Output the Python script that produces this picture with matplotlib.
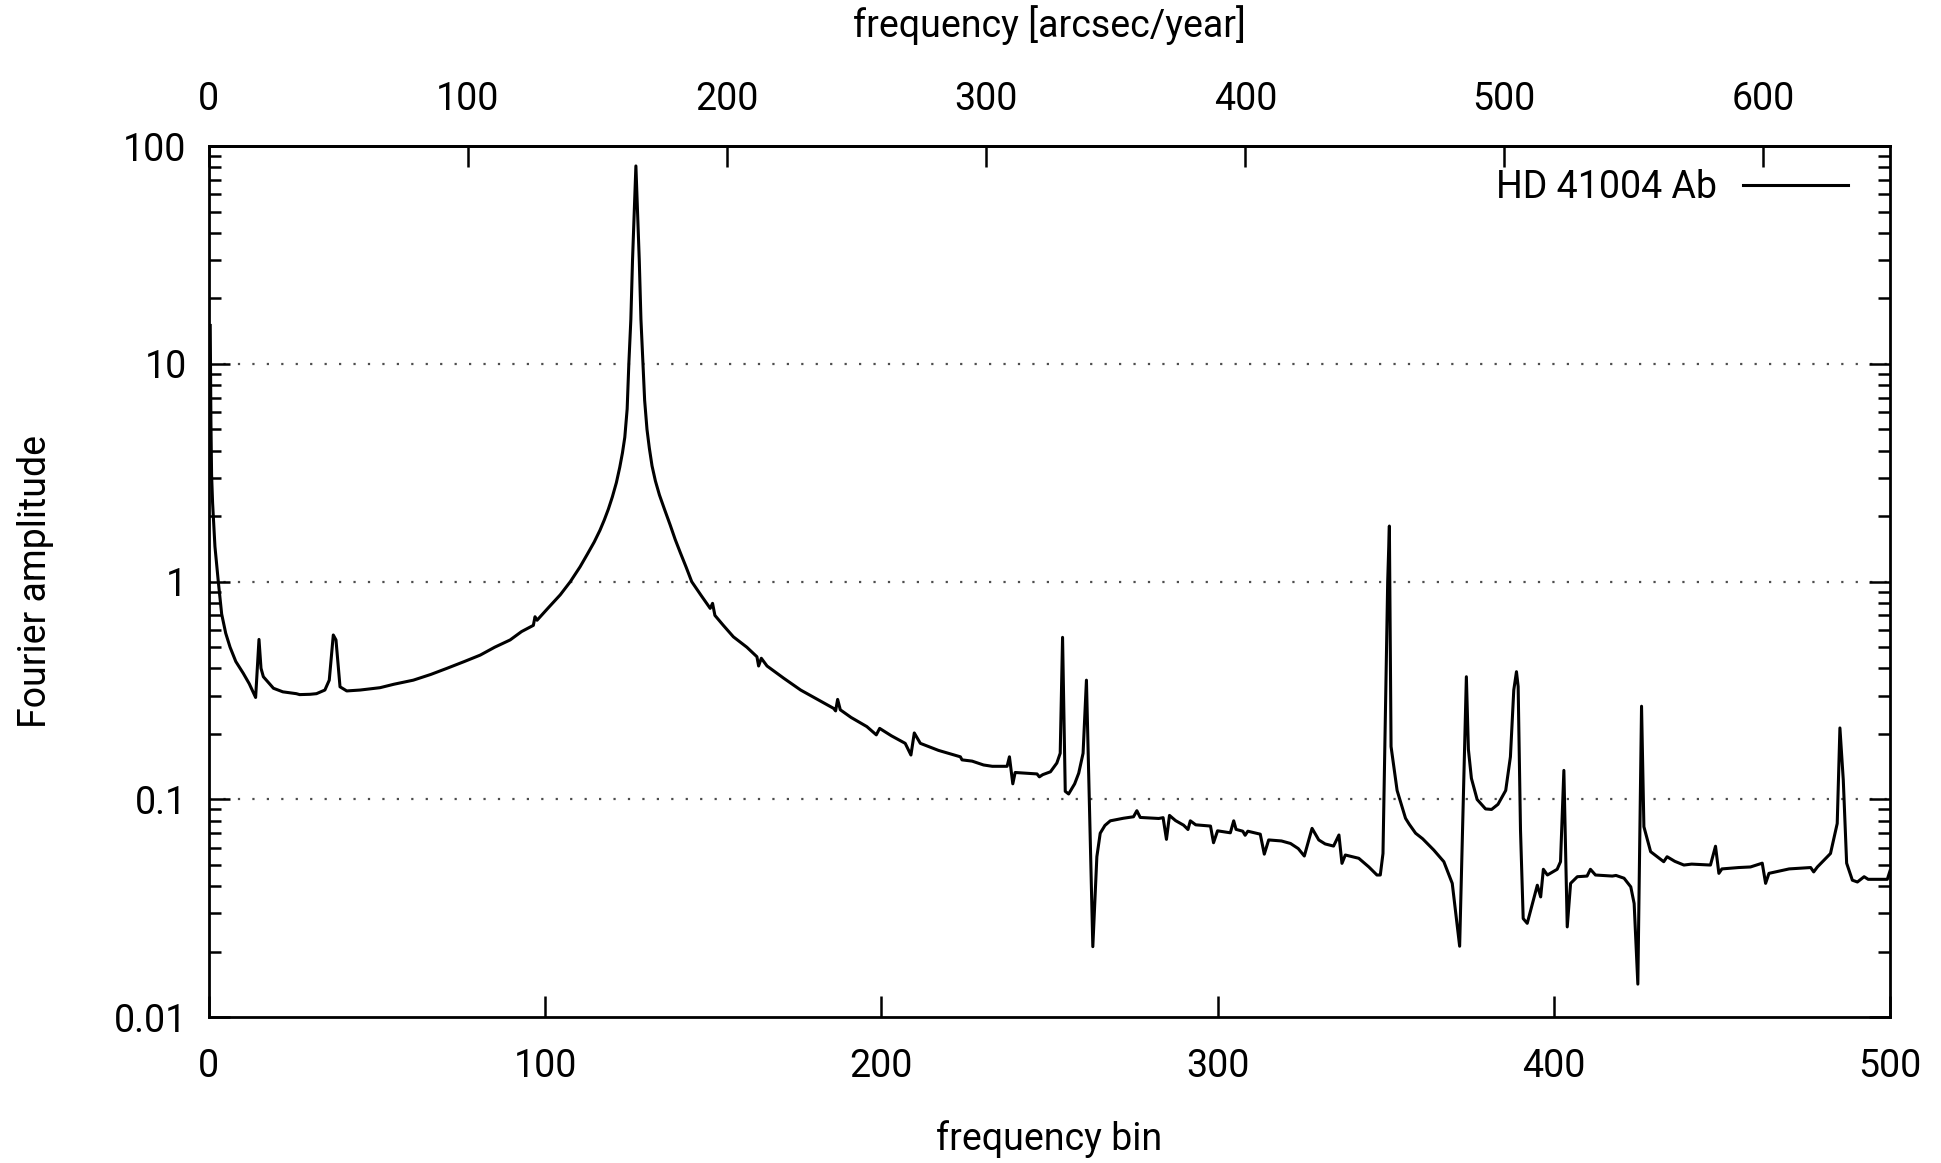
import numpy as np
import matplotlib.pyplot as plt
from matplotlib.ticker import NullFormatter, NullLocator

# spectrum (frequency bin, Fourier amplitude)
bins = [0.4, 0.6, 0.8, 1.1, 1.8, 2.8, 3.8, 5.0, 6.3, 8.0, 10.2, 12.0, 13.9, 14.9, 15.5, 16.2,
        19.2, 22.0, 24.1, 26.0, 27.0, 30.1, 32.0, 34.5, 35.8, 37.0, 37.8, 39.0, 41.0,
        45.0, 50.9, 55.0, 60.8, 66.0, 70.8, 76.0, 80.7, 85.0, 89.6, 93.0, 96.5, 97.0,
        97.6, 101.0, 104.5, 107.5, 110.4, 112.6, 114.6, 116.3, 117.6, 118.8, 120.0,
        121.2, 122.2, 123.0, 123.7,
        124.4, 124.9, 125.5, 126.0, 126.5, 127.0, 127.5, 128.0, 128.5, 129.1, 129.6,
        130.3, 131.0, 131.8, 132.8, 134.0, 135.5, 137.2, 138.7, 140.2, 141.9, 143.6,
        146.5, 149.1, 149.8, 150.5, 153.0, 156.0, 160.0,
        163.0, 163.5, 164.3, 166.0, 171.0, 176.0, 181.0, 185.8, 186.4, 187.0, 187.8,
        191.0, 195.7, 198.5, 199.5, 203.0, 207.1, 208.8, 209.8, 211.6, 217.0, 223.5,
        224.0, 227.0, 230.4, 233.0, 237.4, 238.1, 239.1, 239.8, 246.3, 247.0, 248.0,
        250.3, 252.2, 253.2, 253.9, 254.7, 255.7, 257.5, 258.7, 260.0, 261.0, 262.9,
        264.1, 265.1, 266.5, 268.1, 272.0, 275.0, 276.0, 277.0, 282.5, 283.8, 284.8,
        285.7, 287.5, 289.9, 291.2, 291.9, 293.5, 297.9, 298.8, 300.0, 303.8, 304.8,
        305.5, 307.5, 308.2, 309.0, 312.7, 313.9, 315.2, 319.0, 321.7, 324.0, 325.8,
        328.1, 330.1, 332.0, 334.5, 336.1, 337.0, 338.0, 342.0, 345.0, 347.4, 348.4,
        349.2, 350.6, 351.1, 351.6, 353.4, 355.9, 357.0, 358.9, 361.0, 364.3, 367.3,
        369.8, 372.0, 374.0, 374.6, 375.5, 377.2, 379.7, 381.5, 383.4, 385.7, 387.1,
        388.1, 388.9, 389.4, 390.1, 390.9, 392.1, 395.1, 396.1, 396.9, 398.1, 401.0,
        402.0, 403.0, 404.0, 405.0, 407.0, 409.9, 410.9, 412.4, 417.4, 418.5, 420.9,
        422.9, 423.9, 425.0, 426.1, 426.8, 428.8, 432.7, 433.7, 436.0, 438.7, 441.0,
        446.6, 448.1, 449.1, 450.0, 455.0, 458.5, 462.0, 463.0, 464.0, 470.0, 476.4,
        477.3, 478.4, 482.3, 484.3, 485.1, 486.1, 487.1, 488.8, 490.3, 492.3, 493.5,
        499.2, 500.0]
amp = [15.0, 5.5, 3.1, 2.3, 1.45, 1.0, 0.71, 0.58, 0.50, 0.43, 0.38, 0.34, 0.294, 0.543, 0.40, 0.366,
       0.324, 0.312, 0.309, 0.306, 0.303, 0.304, 0.306, 0.318, 0.353, 0.569, 0.540, 0.329, 0.315,
       0.318, 0.326, 0.338, 0.353, 0.375, 0.40, 0.43, 0.46, 0.50, 0.54, 0.59, 0.63, 0.69,
       0.665, 0.76, 0.87, 1.0, 1.17, 1.34, 1.52, 1.72, 1.92, 2.15, 2.45,
       2.85, 3.35, 3.9, 4.6,
       6.2, 10.0, 16.0, 30.0, 50.0, 81.0, 50.0, 30.0, 16.0, 10.0, 6.8,
       5.0, 4.1, 3.4, 2.9, 2.5, 2.15, 1.82, 1.56, 1.36, 1.17, 1.0,
       0.86, 0.754, 0.795, 0.70, 0.63, 0.558, 0.50,
       0.452, 0.41, 0.445, 0.41, 0.36, 0.318, 0.288, 0.262, 0.255, 0.288, 0.258,
       0.238, 0.216, 0.198, 0.212, 0.196, 0.181, 0.160, 0.202, 0.181, 0.168, 0.157,
       0.152, 0.150, 0.144, 0.142, 0.142, 0.157, 0.118, 0.133, 0.131, 0.127, 0.130,
       0.134, 0.147, 0.163, 0.555, 0.109, 0.106, 0.118, 0.132, 0.163, 0.353, 0.0211,
       0.0546, 0.070, 0.076, 0.0798, 0.082, 0.0833, 0.0888, 0.0827, 0.0818, 0.0825, 0.0656,
       0.0845, 0.080, 0.0762, 0.0728, 0.0798, 0.0765, 0.0755, 0.0633, 0.0718, 0.0703, 0.0798,
       0.0729, 0.0715, 0.0685, 0.0715, 0.0693, 0.0561, 0.0652, 0.0645, 0.0628, 0.0595, 0.0550,
       0.0737, 0.0652, 0.0625, 0.0611, 0.0687, 0.0509, 0.0556, 0.0537, 0.049, 0.045, 0.045,
       0.0565, 1.0, 1.8, 0.175, 0.110, 0.082, 0.077, 0.070, 0.066, 0.0586, 0.0518,
       0.0412, 0.0212, 0.366, 0.17, 0.125, 0.100, 0.0905, 0.090, 0.095, 0.110, 0.157,
       0.318, 0.386, 0.33, 0.0724, 0.0284, 0.0270, 0.0404, 0.0357, 0.0478, 0.045, 0.0478,
       0.0518, 0.136, 0.0260, 0.0412, 0.0442, 0.0445, 0.0478, 0.045, 0.0445, 0.0448, 0.0435,
       0.0397, 0.0333, 0.0142, 0.268, 0.075, 0.0576, 0.0518, 0.0546, 0.052, 0.050, 0.0505,
       0.050, 0.061, 0.0458, 0.048, 0.0487, 0.049, 0.051, 0.0412, 0.0458, 0.048, 0.0487,
       0.0465, 0.049, 0.0565, 0.0776, 0.213, 0.123, 0.051, 0.0426, 0.0418, 0.0442, 0.043,
       0.043, 0.047]

arcsec_per_bin = 1.2977
x_ticks = [0, 100, 200, 300, 400, 500]
top_ticks = [0, 100, 200, 300, 400, 500, 600]
y_ticks = [0.01, 0.1, 1, 10, 100]
y_labels = ['0.01', '0.1', '1', '10', '100']

plt.rcParams['font.family'] = ['Roboto', 'DejaVu Sans']
fs = 27

fig = plt.figure(figsize=(19.41, 11.63), dpi=100)
ax = fig.add_axes([0.10762, 0.12528, 0.86611, 0.74918])
ax.semilogy(bins, amp, color='black', lw=2.2, label='HD 41004 Ab')
ax.set_xlim(0, 500)
ax.set_ylim(0.01, 100)

ax.set_xticks(x_ticks)
ax.xaxis.set_minor_locator(NullLocator())
ax.set_yticks(y_ticks, y_labels)
ax.yaxis.set_minor_formatter(NullFormatter())
ax.tick_params(which='both', direction='in', top=False, right=True,
               labelsize=fs, width=1.8, color='black')
ax.tick_params(which='major', length=15)
ax.tick_params(which='minor', length=8.5)
ax.tick_params(axis='x', pad=22)
ax.tick_params(axis='y', pad=16)
for s in ax.spines.values():
    s.set_linewidth(2)

# dotted lines at the labelled decades
for v in [0.1, 1, 10]:
    ax.axhline(v, color='0.3', lw=1.6, ls=(0, (1, 5.5)), zorder=0)

# top axis in arcsec/year
secax = ax.secondary_xaxis('top', functions=(lambda b: b * arcsec_per_bin,
                                             lambda f: f / arcsec_per_bin))
secax.set_xticks(top_ticks)
secax.tick_params(direction='in', length=15, width=1.8, labelsize=fs, pad=20)
secax.spines['top'].set_linewidth(2)

fig.text(0.5407, 1 - 24.8 / 1163, 'frequency [arcsec/year]', fontsize=fs,
         ha='center', va='center')
fig.text(0.5407, 1 - 1139 / 1163, 'frequency bin', fontsize=fs,
         ha='center', va='center')
fig.text(36 / 1941, 0.5, 'Fourier amplitude', fontsize=fs, rotation=90,
         ha='center', va='center')

ax.legend(loc='upper right', bbox_to_anchor=(1 - 42 / 1680.5, 1 - 23 / 871.3),
          borderaxespad=0, borderpad=0, frameon=False, markerfirst=False,
          handlelength=2.8, handletextpad=0.7, fontsize=fs)

fig.savefig('out.png', dpi=100)
